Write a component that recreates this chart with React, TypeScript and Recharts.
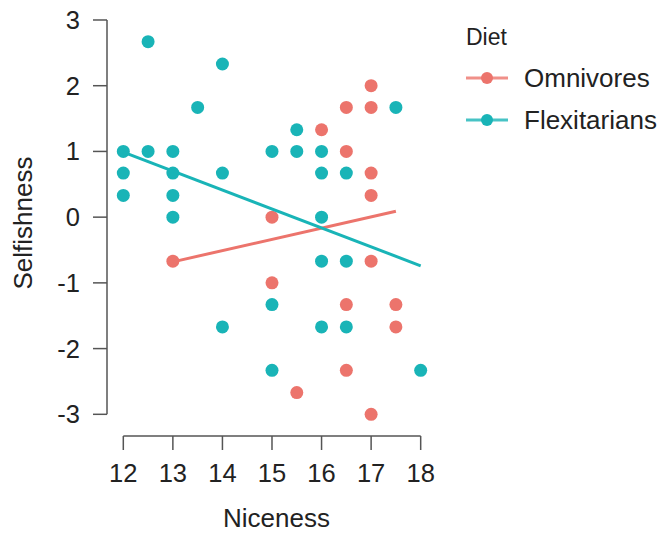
import { ScatterChart, Scatter, XAxis, YAxis, ReferenceLine, Label } from 'recharts';

const xTicks = [12, 13, 14, 15, 16, 17, 18];
const yTicks = [-3, -2, -1, 0, 1, 2, 3];

// group means (steps of 1/3)
const omnivores = [
  { x: 13, y: -0.67 },
  { x: 15, y: 0 },
  { x: 15, y: -1 },
  { x: 15.5, y: -2.67 },
  { x: 16, y: 1.33 },
  { x: 16.5, y: 1.67 },
  { x: 16.5, y: 1 },
  { x: 16.5, y: -1.33 },
  { x: 16.5, y: -2.33 },
  { x: 17, y: 2 },
  { x: 17, y: 1.67 },
  { x: 17, y: 0.67 },
  { x: 17, y: 0.33 },
  { x: 17, y: -0.67 },
  { x: 17, y: -3 },
  { x: 17.5, y: -1.33 },
  { x: 17.5, y: -1.67 },
];

const flexitarians = [
  { x: 12, y: 1 },
  { x: 12, y: 0.67 },
  { x: 12, y: 0.33 },
  { x: 12.5, y: 2.67 },
  { x: 12.5, y: 1 },
  { x: 13, y: 1 },
  { x: 13, y: 0.67 },
  { x: 13, y: 0.33 },
  { x: 13, y: 0 },
  { x: 13.5, y: 1.67 },
  { x: 14, y: 2.33 },
  { x: 14, y: 0.67 },
  { x: 14, y: -1.67 },
  { x: 15, y: 1 },
  { x: 15, y: -1.33 },
  { x: 15, y: -2.33 },
  { x: 15.5, y: 1.33 },
  { x: 15.5, y: 1 },
  { x: 16, y: 1 },
  { x: 16, y: 0.67 },
  { x: 16, y: 0 },
  { x: 16, y: -0.67 },
  { x: 16, y: -1.67 },
  { x: 16.5, y: 0.67 },
  { x: 16.5, y: -0.67 },
  { x: 16.5, y: -1.67 },
  { x: 17.5, y: 1.67 },
  { x: 18, y: -2.33 },
];

// fitted regression lines
const omnivoresFit = [
  { x: 13, y: -0.68 },
  { x: 17.5, y: 0.09 },
];
const flexitariansFit = [
  { x: 12, y: 0.99 },
  { x: 18, y: -0.74 },
];

const RED = '#EC746C';
const TEAL = '#19B4B7';
const AXIS = '#555';
const TEXT = '#222';
const FONT = '"Liberation Sans", Arial, Helvetica, sans-serif';

const X_DOMAIN = [11.671, 18.188];
const Y_DOMAIN = [-3.33, 3.152];

const dot = (color: string) => (props: any) => (
  <circle cx={props.cx} cy={props.cy} r={6.5} fill={color} />
);
const noDot = () => <g />;

const legendItems = [
  { name: 'Omnivores', color: RED },
  { name: 'Flexitarians', color: TEAL },
];

function LegendBox() {
  return (
    <div style={{ position: 'absolute', left: 466, top: 23, fontFamily: FONT, color: TEXT }}>
      <div style={{ fontSize: 23, lineHeight: '28px', marginBottom: 6 }}>Diet</div>
      {legendItems.map((item) => (
        <div key={item.name} style={{ display: 'flex', alignItems: 'center', height: 42 }}>
          <svg width={44} height={14} style={{ marginRight: 14 }}>
            <line x1={0} y1={7} x2={42} y2={7} stroke={item.color} strokeWidth={3} strokeOpacity={0.8} />
            <circle cx={21} cy={7} r={6} fill={item.color} />
          </svg>
          <span style={{ fontSize: 26 }}>{item.name}</span>
        </div>
      ))}
    </div>
  );
}

export default function App() {
  return (
    <div style={{ position: 'absolute', left: 0, top: 0, width: 664, height: 535, background: '#fff' }}>
      <ScatterChart width={664} height={535} margin={{ top: 10, right: 234, bottom: 0, left: 47 }}>
        <XAxis
          type="number"
          dataKey="x"
          domain={X_DOMAIN}
          allowDataOverflow
          ticks={xTicks}
          interval={0}
          axisLine={false}
          tickLine={{ stroke: AXIS, strokeWidth: 1.5 }}
          tickSize={14}
          tickMargin={14}
          tick={{ fill: TEXT, fontSize: 25.5, fontFamily: FONT }}
          height={99}
        >
          <Label
            value="Niceness"
            position="insideBottom"
            offset={8}
            dx={8}
            style={{ fill: TEXT, fontSize: 26, fontFamily: FONT }}
          />
        </XAxis>
        <YAxis
          type="number"
          dataKey="y"
          domain={Y_DOMAIN}
          allowDataOverflow
          ticks={yTicks}
          interval={0}
          axisLine={false}
          tickLine={{ stroke: AXIS, strokeWidth: 1.5 }}
          tickSize={14}
          tickMargin={13}
          tick={{ fill: TEXT, fontSize: 25.5, fontFamily: FONT }}
          width={60}
        >
          <Label
            content={(p: any) => {
              const cy = p.viewBox.y + p.viewBox.height / 2;
              return (
                <text
                  x={32}
                  y={cy}
                  transform={`rotate(-90, 32, ${cy})`}
                  textAnchor="middle"
                  fill={TEXT}
                  fontSize={26}
                  fontFamily={FONT}
                >
                  Selfishness
                </text>
              );
            }}
          />
        </YAxis>
        <ReferenceLine
          segment={[{ x: 12, y: Y_DOMAIN[0] }, { x: 18, y: Y_DOMAIN[0] }]}
          stroke={AXIS}
          strokeWidth={1.5}
          ifOverflow="visible"
        />
        <ReferenceLine
          segment={[{ x: X_DOMAIN[0], y: -3 }, { x: X_DOMAIN[0], y: 3 }]}
          stroke={AXIS}
          strokeWidth={1.5}
          ifOverflow="visible"
        />
        <Scatter name="Omnivores" data={omnivores} shape={dot(RED)} isAnimationActive={false} />
        <Scatter name="Flexitarians" data={flexitarians} shape={dot(TEAL)} isAnimationActive={false} />
        <Scatter
          data={omnivoresFit}
          line={{ stroke: RED, strokeWidth: 3 }}
          shape={noDot}
          isAnimationActive={false}
        />
        <Scatter
          data={flexitariansFit}
          line={{ stroke: TEAL, strokeWidth: 3 }}
          shape={noDot}
          isAnimationActive={false}
        />
      </ScatterChart>
      <LegendBox />
    </div>
  );
}
